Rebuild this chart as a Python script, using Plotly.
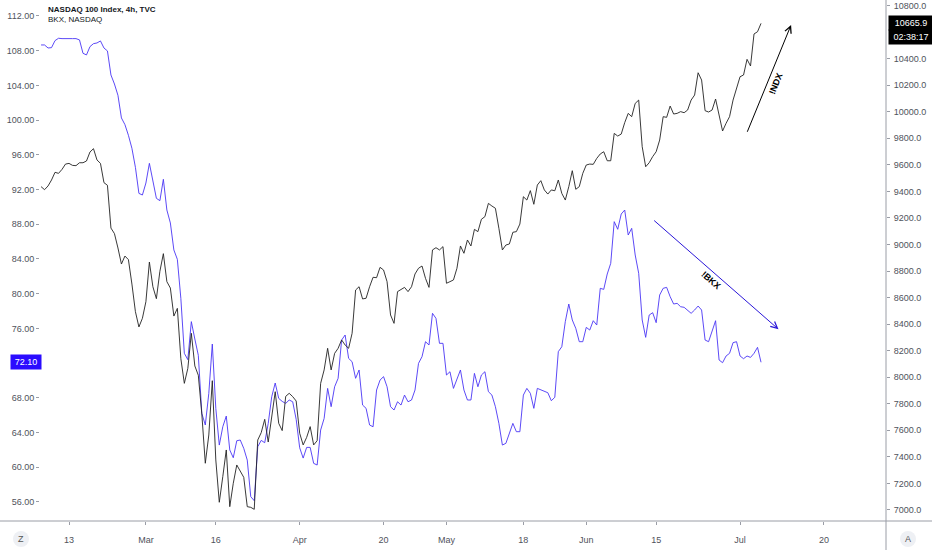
import pandas as pd
import plotly.graph_objects as go

# ---------------- data (4h bars, two bars per trading session) ----------------
first_session = "2020-02-07"
last_session = "2020-08-05"
holidays = ["2020-02-17", "2020-04-10", "2020-05-25", "2020-07-03"]

ndx = [
    9436, 9413, 9441, 9486, 9544, 9536, 9566, 9606, 9611, 9596,
    9594, 9616, 9616, 9629, 9697, 9722, 9637, 9611, 9466, 9446,
    9124, 9082, 8974, 8853, 8913, 8886, 8702, 8494, 8379, 8444,
    8569, 8868, 8682, 8592, 8798, 8931, 8720, 8672, 8461, 8519,
    8140, 7954, 8067, 8331, 8085, 8015, 7723, 7352, 7565, 7974,
    7377, 7058, 7251, 7452, 7025, 7201, 7339, 7291, 7246, 7025,
    7020, 7005, 7527, 7583, 7683, 7512, 7691, 7891, 7653, 7598,
    7856, 7879, 7854, 7821, 7578, 7490, 7547,
    7628, 7490, 7522, 7954, 8055, 8218, 8055, 8180, 8218, 8281,
    8243, 8218, 8331, 8657, 8682, 8590, 8595, 8682, 8753, 8750,
    8828, 8808, 8720, 8469, 8406, 8645, 8662, 8677, 8645, 8682,
    8778, 8821, 8838, 8745, 8677, 8959, 8976, 8959, 8984, 8708,
    8720, 8733, 8821, 8989, 8934, 9034, 8989, 9114, 9097, 9190,
    9210, 9310, 9290, 9273, 9122, 8959, 8996, 9004, 9092, 9097,
    9154, 9360, 9335, 9406, 9303, 9448, 9481, 9411,
    9380, 9411, 9405, 9486, 9385, 9335, 9436, 9556, 9416, 9436,
    9536, 9599, 9606, 9604, 9649, 9682, 9699, 9631, 9631, 9837,
    9817, 9832, 9918, 9988, 9963, 10063, 10088, 9737, 9586, 9616,
    9662, 9699, 9787, 9963, 9958, 10043, 9983, 9988, 10001, 9993,
    10013, 10088, 10126, 10294, 10239, 10008, 9998, 10013, 10096, 9963,
    9855, 9913, 9963, 10088, 10184, 10264, 10277, 10395, 10345, 10586,
    10603, 10665.9,
]

bkx = [
    108.66, 108.66, 108.31, 108.35, 109.16, 109.43, 109.39, 109.43, 109.39, 109.39,
    109.39, 109.24, 107.70, 107.51, 108.47, 108.81, 108.89, 109.12, 108.31, 107.97,
    105.20, 104.16, 102.86, 100.25, 99.48, 98.25, 96.75, 94.56, 91.56, 91.37,
    92.75, 95.02, 93.10, 90.99, 90.72, 93.18, 89.64, 88.15, 85.04, 83.96,
    79.46, 73.13, 72.40, 76.78, 74.78, 72.90, 66.21, 64.87, 68.52, 74.20,
    66.79, 62.56, 64.67, 65.90, 61.99, 61.10, 63.06, 63.14, 62.18, 60.83,
    56.61, 56.15, 62.37, 63.10, 62.83, 65.06, 68.13, 69.71, 67.94, 67.59,
    67.36, 67.75, 67.55, 65.52, 62.25, 61.06, 62.29,
    62.29, 60.45, 60.26, 64.29, 65.63, 69.09, 66.98, 69.28, 70.25, 74.66,
    75.24, 72.55, 72.16, 70.25, 71.21, 67.17, 66.79, 64.87, 64.67, 68.90,
    70.05, 70.44, 69.28, 66.98, 66.60, 67.55, 67.17, 68.32, 67.55, 67.75,
    68.90, 71.97, 72.74, 74.47, 74.09, 77.74, 77.16, 74.28, 74.28, 70.63,
    71.01, 69.09, 70.25, 71.21, 68.90, 67.75, 67.75, 70.82, 69.28, 70.63,
    71.01, 68.71, 68.32, 66.98, 65.06, 62.56, 62.76, 63.91, 65.06, 64.10,
    64.10, 68.32, 69.09, 68.52, 66.79, 69.09, 68.90, 68.71,
    68.59, 67.67, 68.06, 73.32, 73.89, 76.78, 78.81, 76.97, 76.01, 74.47,
    74.47, 76.12, 75.81, 76.89, 76.39, 80.62, 80.50, 82.27, 83.50, 88.30,
    87.42, 89.18, 89.64, 86.76, 87.53, 84.46, 82.35, 76.97, 74.97, 77.54,
    77.81, 76.66, 79.85, 80.62, 80.73, 79.66, 78.81, 78.89, 78.50, 78.43,
    78.12, 77.74, 78.12, 78.58, 78.12, 74.66, 74.47, 75.62, 76.89, 72.36,
    72.05, 72.82, 73.13, 74.36, 74.47, 72.82, 72.51, 72.82, 72.66, 73.13,
    73.82, 72.10,
]

tick_dates = ["2020-02-13", "2020-03-02", "2020-03-16", "2020-04-01", "2020-04-20", "2020-05-01",
              "2020-05-18", "2020-06-01", "2020-06-15", "2020-07-01", "2020-07-20"]
tick_labels = ["13", "Mar", "16", "Apr", "20", "May", "18", "Jun", "15", "Jul", "20"]

bkx_ticks = [56, 60, 64, 68, 76, 80, 84, 88, 92, 96, 100, 104, 108, 112]
ndx_ticks = [7000, 7200, 7400, 7600, 7800, 8000, 8200, 8400, 8600, 8800, 9000, 9200,
             9400, 9600, 9800, 10000, 10200, 10400, 10800]

title_main = "NASDAQ 100 Index, 4h, TVC"
title_sub = "BKX, NASDAQ"
countdown = "02:38:17"

# ---------------- session axis (trading days only) ----------------
sessions = pd.bdate_range(first_session, last_session)
sessions = sessions[~sessions.isin(pd.to_datetime(holidays))]
session_pos = {d: i for i, d in enumerate(sessions)}
# two 4h bars per session, evenly spaced like TradingView
bar_x = [i // 2 + 0.5 * (i % 2) for i in range(len(ndx))]
tick_x = [session_pos[pd.Timestamp(d)] for d in tick_dates]

BLUE = "#4a36f5"
LABEL_BLUE = "#2a0cff"
DARK = "#222222"
AXC = "#4f525b"
LINEC = "#9a9da6"
FONT = "Liberation Sans"

fig = go.Figure()
fig.add_trace(go.Scatter(x=bar_x, y=bkx, mode="lines", yaxis="y",
                         line=dict(color=BLUE, width=0.9), hoverinfo="skip", showlegend=False))
fig.add_trace(go.Scatter(x=bar_x, y=ndx, mode="lines", yaxis="y2",
                         line=dict(color=DARK, width=0.9), hoverinfo="skip", showlegend=False))

fig.update_layout(
    width=932, height=550,
    margin=dict(l=40, r=46, t=0, b=29),
    paper_bgcolor="white", plot_bgcolor="white",
    font=dict(family=FONT, size=9, color=AXC),
    xaxis=dict(range=[-0.15, 120.88], tickvals=tick_x, ticktext=tick_labels, automargin=False,
               showgrid=False, zeroline=False, showline=False,
               ticks="outside", ticklen=3, tickcolor=LINEC, ticklabelstandoff=7,
               tickfont=dict(size=9, color=AXC, family=FONT)),
    yaxis=dict(range=[53.81, 113.84], side="left", tickvals=bkx_ticks, automargin=False,
               ticktext=[f"{v:.2f}" for v in bkx_ticks],
               showgrid=False, zeroline=False, showline=False,
               ticks="outside", ticklen=3, tickcolor=LINEC,
               tickfont=dict(size=9, color=AXC, family=FONT)),
    yaxis2=dict(range=[6917, 10842], side="right", overlaying="y", tickvals=ndx_ticks,
                ticktext=[f"{v:.1f}" for v in ndx_ticks], automargin=False,
                showgrid=False, zeroline=False, showline=False,
                ticks="outside", ticklen=3, tickcolor=LINEC, ticklabelstandoff=2,
                tickfont=dict(size=9, color=AXC, family=FONT)),
)

# axis frame lines (bottom time scale and right price scale borders)
fig.add_shape(type="line", xref="paper", yref="paper", x0=-40 / 846, x1=892 / 846, y0=0, y1=0,
              line=dict(color=LINEC, width=1))
fig.add_shape(type="line", xref="paper", yref="paper", x0=1, x1=1, y0=-29 / 521, y1=1,
              line=dict(color=LINEC, width=1))

# scale-mode buttons
for bx, letter in [(-19 / 846, "Z"), (868 / 846, "A")]:
    fig.add_shape(type="circle", xref="paper", yref="paper", xsizemode="pixel", ysizemode="pixel",
                  xanchor=bx, yanchor=-18 / 521, x0=-8, x1=8, y0=-8, y1=8,
                  fillcolor="#eef0f4", line=dict(width=0))
    fig.add_annotation(xref="paper", yref="paper", x=bx, y=-18 / 521, text=letter,
                       xanchor="center", yanchor="middle",
                       showarrow=False, font=dict(size=9, color="#555"))

# legend titles
fig.add_annotation(xref="paper", yref="paper", x=6 / 846, y=1 - 9 / 521, xanchor="left",
                   yanchor="middle", text=f"<b>{title_main}</b>", showarrow=False,
                   font=dict(size=8, color="#131722", family=FONT))
fig.add_annotation(xref="paper", yref="paper", x=6 / 846, y=1 - 20 / 521, xanchor="left",
                   yanchor="middle", text=title_sub, showarrow=False,
                   font=dict(size=8, color="#131722", family=FONT))

# last-value labels
fig.add_annotation(xref="paper", yref="y", x=0, xshift=2, y=bkx[-1], xanchor="right",
                   text=f"{bkx[-1]:.2f}", showarrow=False, bgcolor=LABEL_BLUE, width=26,
                   font=dict(size=9, color="white", family=FONT), borderpad=2)
fig.add_annotation(xref="paper", yref="y2", x=1, xshift=2, y=ndx[-1], xanchor="left",
                   text=f"{ndx[-1]:.1f}", showarrow=False, bgcolor="#000000", width=40,
                   font=dict(size=9, color="white", family=FONT), borderpad=2)
fig.add_annotation(xref="paper", yref="y2", x=1, xshift=2, y=ndx[-1], yshift=-14, xanchor="left",
                   text=countdown, showarrow=False, bgcolor="#000000", width=40,
                   font=dict(size=9, color="white", family=FONT), borderpad=2)

# trend arrows drawn on the chart
fig.add_annotation(xref="x", yref="y2", axref="x", ayref="y2", x=107.3, y=10654, ax=100.95, ay=9838,
                   text="", showarrow=True, arrowhead=5, arrowsize=1.3, arrowwidth=1, arrowcolor="#000000")
fig.add_annotation(xref="x", yref="y2", x=105.1, y=10209, text="<b>!NDX</b>", textangle=-68,
                   showarrow=False, font=dict(size=9, color="#000000", family=FONT))
fig.add_annotation(xref="x", yref="y", axref="x", ayref="y", x=105.5, y=75.9, ax=87.5, ay=88.58,
                   text="", showarrow=True, arrowhead=5, arrowsize=1.3, arrowwidth=1, arrowcolor="#2a16d8")
fig.add_annotation(xref="x", yref="y", x=95.8, y=81.58, text="<b>!BKX</b>", textangle=41,
                   showarrow=False, font=dict(size=9, color="#000000", family=FONT))

fig.write_html("out.html", config={"displayModeBar": False},
               post_script="document.body.style.margin='0px';")
